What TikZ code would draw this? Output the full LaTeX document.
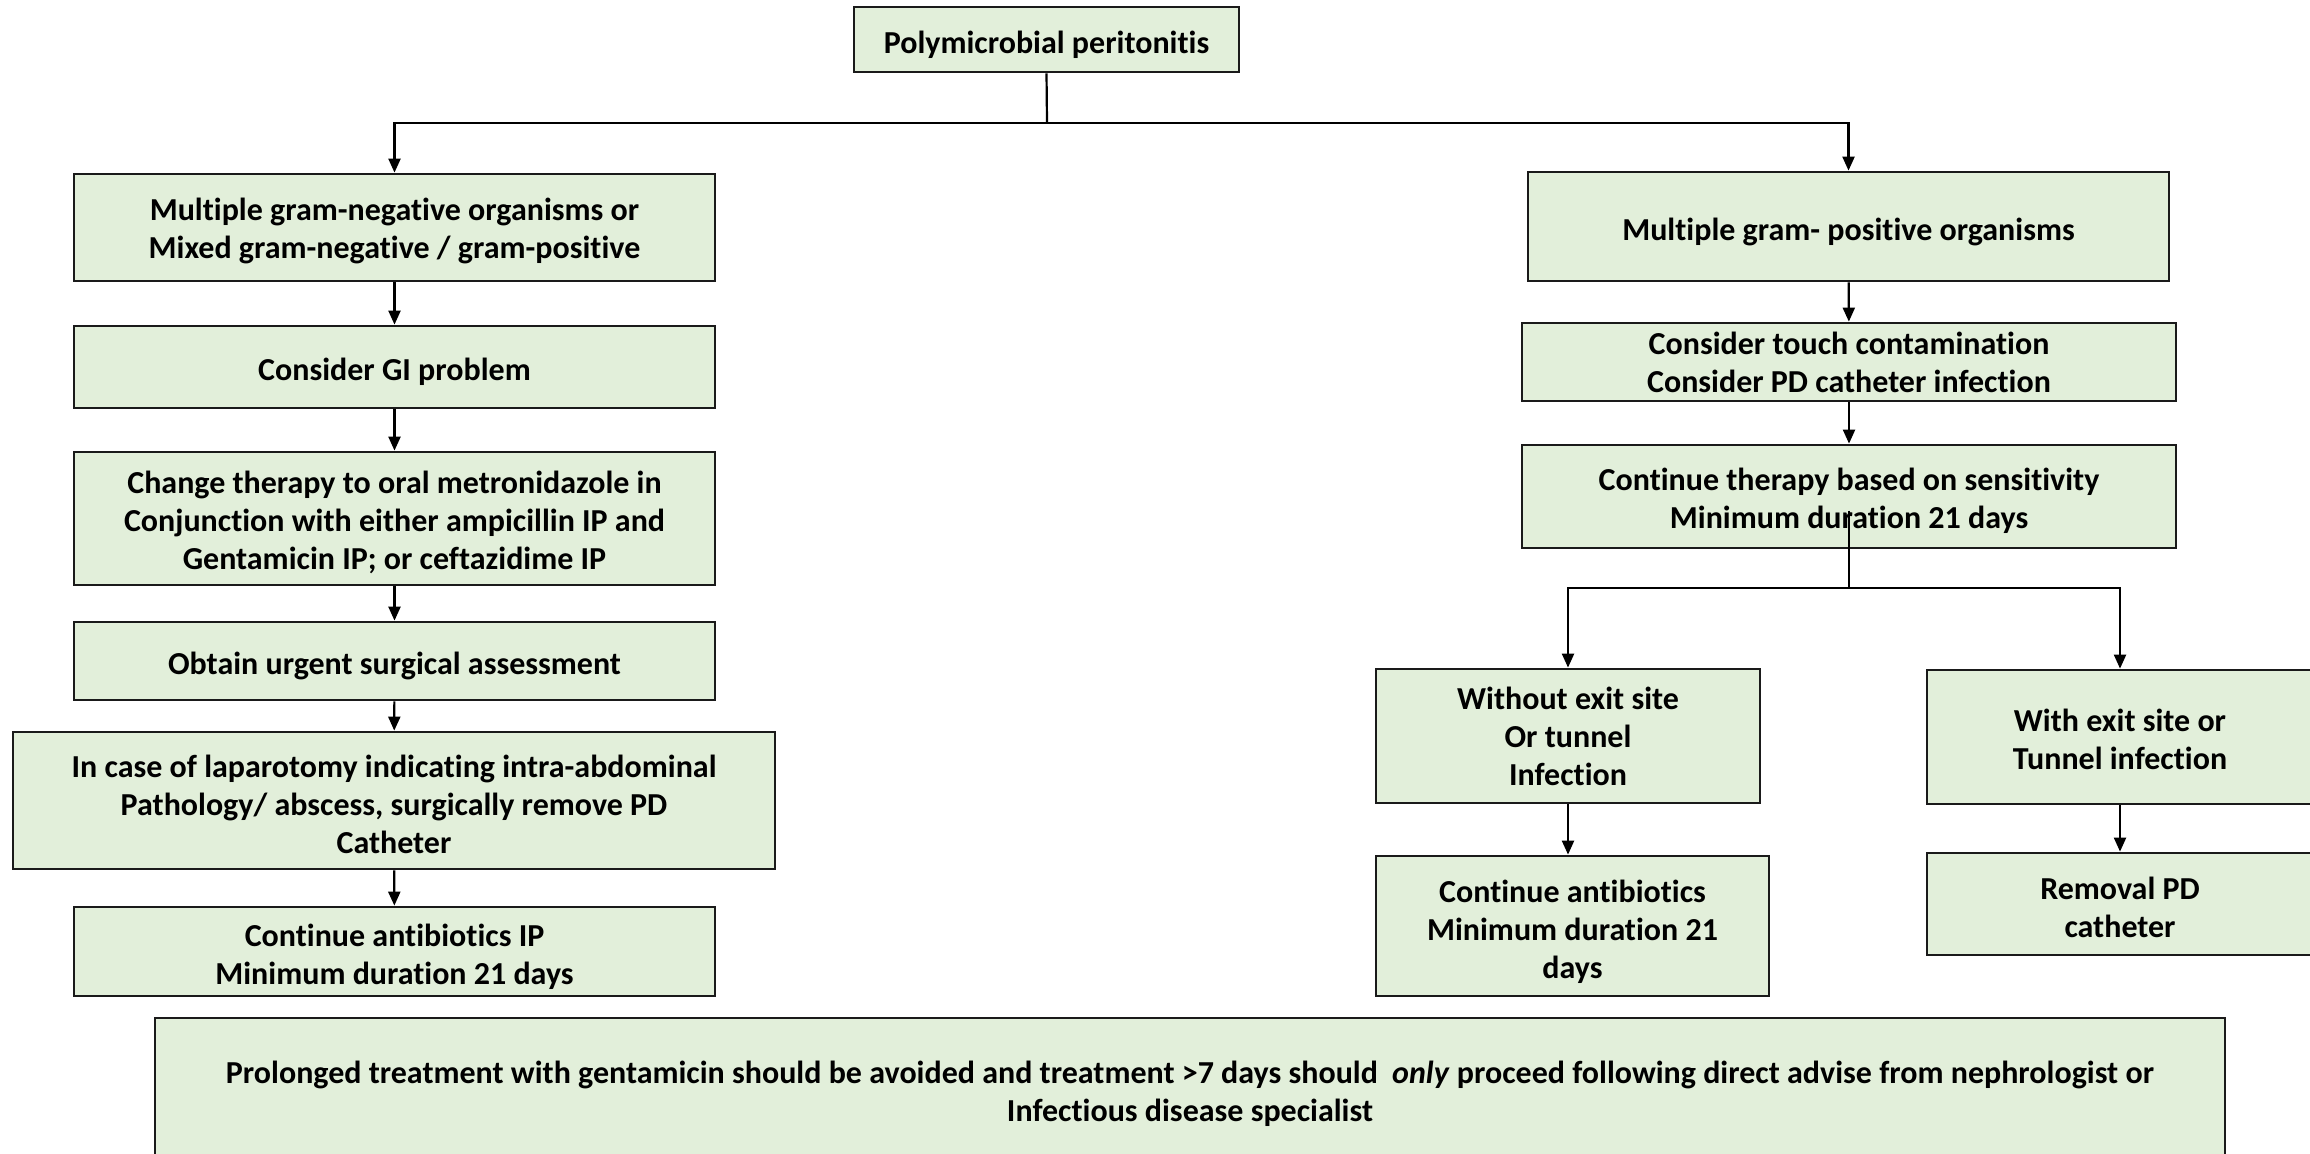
\documentclass[tikz,border=0pt]{standalone}
\usepackage{fontspec}
\setmainfont{Carlito}[Ligatures={NoCommon,NoContextual}]
\usetikzlibrary{arrows.meta,calc}
\definecolor{boxfill}{RGB}{226,239,218}
\definecolor{boxedge}{RGB}{26,26,26}
% taller first line, so the text block sits a little low in its box
\newcommand\lnstrut[1]{\rule{0pt}{#1pt}}
\begin{document}
\begin{tikzpicture}[x=0.5pt,y=-0.5pt,
  box/.style={draw=boxedge,line width=1.4pt,fill=boxfill,align=center,inner sep=0pt,
    font=\fontsize{16pt}{19pt}\selectfont\bfseries,
    execute at begin node={\lnstrut{16.5}}},
  link/.style={line width=1.1pt,draw=black},
  arr/.style={link,-{Triangle[width=6pt,length=7pt]}}]
\useasboundingbox (0,0) rectangle (2310,1153);

% root
\node[box,minimum width=192.5pt,minimum height=32.5pt] (top) at (1046.5,39.5) {Polymicrobial peritonitis};

% left branch
\node[box,minimum width=320.5pt,minimum height=53.5pt] (l1) at (394.5,227.5)
  {\lnstrut{15}Multiple gram-negative organisms or\\Mixed gram-negative / gram-positive};
\node[box,minimum width=320.5pt,minimum height=41pt] (l2) at (394.5,367)
  {Consider GI problem};
\node[box,minimum width=320.5pt,minimum height=66.5pt] (l3) at (394.5,518.5)
  {\lnstrut{15}Change therapy to oral metronidazole in\\Conjunction with either ampicillin IP and\\Gentamicin IP; or ceftazidime IP};
\node[box,minimum width=320.5pt,minimum height=39pt] (l4) at (394.5,661)
  {Obtain urgent surgical assessment};
\node[box,minimum width=381pt,minimum height=68.5pt] (l5) at (394,800.5)
  {\lnstrut{14.6}In case of laparotomy indicating intra-abdominal\\Pathology/ abscess, surgically remove PD\\Catheter};
\node[box,minimum width=320.5pt,minimum height=44.5pt] (l6) at (394.5,951.5)
  {\lnstrut{16.5}Continue antibiotics IP\\Minimum duration 21 days};

% right branch
\node[box,minimum width=320.5pt,minimum height=54.5pt] (r1) at (1848.5,226.5)
  {Multiple gram- positive organisms};
\node[box,minimum width=327pt,minimum height=39pt] (r2) at (1849,362)
  {Consider touch contamination\\Consider PD catheter infection};
\node[box,minimum width=327pt,minimum height=51.5pt] (r3) at (1849,496.5)
  {\lnstrut{15.8}Continue therapy based on sensitivity\\Minimum duration 21 days};
\node[box,minimum width=192pt,minimum height=67pt] (r4) at (1568,736)
  {Without exit site\\Or tunnel\\Infection};
\node[box,minimum width=193pt,minimum height=67pt] (r5) at (2120,737)
  {\lnstrut{13.6}With exit site or\\Tunnel infection};
\node[box,minimum width=196.5pt,minimum height=70pt] (r6) at (1572.5,926)
  {\lnstrut{16.5}Continue antibiotics\\Minimum duration 21\\days};
\node[box,minimum width=193pt,minimum height=51pt] (r7) at (2120,904)
  {\lnstrut{14.3}Removal PD\\catheter};

% footnote
\node[box,minimum width=1035pt,minimum height=73pt] (note) at (1190,1091)
  {\lnstrut{13.6}Prolonged treatment with gentamicin should be avoided and treatment >7 days should\ \ \textit{only} proceed following direct advise from nephrologist or\\Infectious disease specialist};

% connectors
\coordinate (hub) at (1047,123);
\draw[link] (top.south) -- (hub);
\draw[arr] (hub) -| (l1.north);
\draw[arr] (hub) -| (r1.north);

\draw[arr] (l1) -- (l2);
\draw[arr] (l2) -- (l3);
\draw[arr] (l3) -- (l4);
\draw[arr] (l4) -- (l5);
\draw[arr] (l5) -- (l6);

\draw[arr] (r1) -- (r2);
\draw[arr] (r2) -- (r3);

\coordinate (split) at (1849,588);
\draw[link] ($(r3.center)+(0,14)$) -- (split);
\draw[arr] (split) -| (r4.north);
\draw[arr] (split) -| (r5.north);
\draw[arr] (r4.south) -- (r4.south |- r6.north);
\draw[arr] (r5) -- (r7);
\end{tikzpicture}
\end{document}
